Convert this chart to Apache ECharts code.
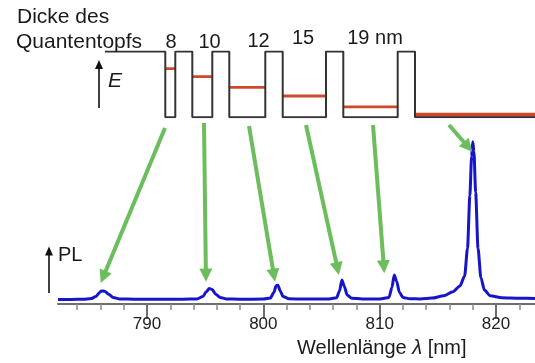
<!DOCTYPE html>
<html><head><meta charset="utf-8">
<script src="https://cdn.jsdelivr.net/npm/echarts@6/dist/echarts.min.js"></script>
<style>html,body{margin:0;padding:0;background:#fff}#c{width:535px;height:363px}</style>
</head><body><div id="c"></div>
<script>
// ---- PL spectrum (wavelength in nm, intensity normalised) ----
const wavelength = [782.35,783.5,784.5,785.2,785.6,785.9,786.1,786.35,786.7,787.1,787.6,789,791,793,794.3,794.8,795.1,795.35,795.6,795.9,796.3,796.8,798,800,800.6,800.9,801.1,801.25,801.45,801.7,802.2,803.5,805.5,806.3,806.55,806.75,806.95,807.2,807.6,808.5,810,810.8,811.05,811.25,811.45,811.7,812,812.6,813.5,814.5,815.5,816.3,816.9,817.3,817.55,817.75,817.9,818.0,818.1,818.25,818.45,818.7,819.0,819.5,820.5,822,823.35];
const plIntensity = [0.028,0.028,0.029,0.033,0.045,0.068,0.08,0.078,0.06,0.04,0.031,0.029,0.029,0.029,0.031,0.045,0.075,0.095,0.088,0.06,0.04,0.031,0.029,0.03,0.036,0.07,0.112,0.115,0.08,0.045,0.032,0.03,0.03,0.038,0.08,0.146,0.11,0.055,0.035,0.031,0.031,0.04,0.1,0.177,0.14,0.07,0.04,0.032,0.031,0.036,0.05,0.075,0.11,0.17,0.34,0.66,0.9,0.99,0.93,0.68,0.34,0.16,0.085,0.05,0.038,0.035,0.034];
const majorTicks = [790,800,810,820];
const minorTicks = [784,786,788,792,794,796,798,802,804,806,808,812,814,816,818,822];

// ---- quantum well profile (position in diagram units, energy 0..1) ----
const profileX = [0,60.3,60.3,70.3,70.3,87.3,87.3,107.3,107.3,124.3,124.3,160.3,160.3,177.7,177.7,221,221,238.3,238.3,292.7,292.7,310,310,430];
const profileE = [1,1,0,0,1,1,0,0,1,1,0,0,1,1,0,0,1,1,0,0,1,1,0,0];
const levelFrom = [60.3,87.3,124.3,177.7,238.3,310];
const levelTo   = [70.3,107.3,160.3,221,292.7,430];
const levelE    = [0.739,0.617,0.456,0.324,0.157,0.04];
const wellLabels = ['8','10','12','15','19 nm'];

// ---- green arrows: from well (diagram units) to PL peak (spectrum units) ----
const arrowFromX = [60,99,144,201,268,344];
const arrowFromE = [-0.163,-0.088,-0.132,-0.117,-0.117,-0.117];
const arrowToWl  = [786.02,795.07,801.0,806.5,810.4,817.96];
const arrowToI   = [0.128,0.136,0.136,0.177,0.187,0.928];

const FONT = "'Liberation Sans', Arial, sans-serif";
const chart = echarts.init(document.getElementById('c'), null, {renderer:'canvas'});

const series = [
  {type:'line', xAxisIndex:0, yAxisIndex:0, data: wavelength.map((w,i)=>[w, plIntensity[i]]),
   showSymbol:false, smooth:0.25, smoothMonotone:'x', lineStyle:{color:'#1616c8', width:3}, z:5},
];
levelE.forEach((e,i)=>{
  series.push({type:'line', xAxisIndex:2, yAxisIndex:1, data:[[levelFrom[i],e],[levelTo[i],e]],
    showSymbol:false, lineStyle:{color:'#d0482c', width: i===5 ? 4 : 2.8}, z:3});
});
series.push({type:'line', xAxisIndex:2, yAxisIndex:1, data: profileX.map((x,i)=>[x, profileE[i]]),
  showSymbol:false, lineStyle:{color:'#333333', width:2}, z:4});

chart.setOption({
  animation:false,
  backgroundColor:'#ffffff',
  grid:[
    {left:58, right:0, top:140, bottom:59},
    {left:105, right:0, top:51.5, bottom:245.7}
  ],
  xAxis:[
    {gridIndex:0, type:'value', min:782.35, max:823.35, position:'bottom',
     axisLine:{show:true, onZero:false, lineStyle:{color:'#6e6e6e', width:2}},
     axisTick:{show:true, length:15, customValues: majorTicks, lineStyle:{color:'#6e6e6e', width:2}},
     axisLabel:{show:true, customValues: majorTicks, fontSize:17, color:'#222', margin:12, fontFamily:FONT},
     splitLine:{show:false}},
    {gridIndex:0, type:'value', min:782.35, max:823.35, position:'bottom',
     axisLine:{show:false, onZero:false},
     axisTick:{show:true, length:6, customValues: minorTicks, lineStyle:{color:'#8a8a8a', width:1.5}},
     axisLabel:{show:false}, splitLine:{show:false}},
    {gridIndex:1, type:'value', min:0, max:430, show:false}
  ],
  yAxis:[
    {gridIndex:0, type:'value', min:0, max:1, show:false},
    {gridIndex:1, type:'value', min:0, max:1, show:false}
  ],
  series: series
});

// ---- annotations ----
const graphics = [];
function txt(text, x, y, size, align, extra){
  graphics.push({type:'text', x:x, y:y, z:10, style:Object.assign({text:text, fill:'#1a1a1a', font: size+'px '+FONT, align:align||'left', verticalAlign:'middle'}, extra||{})});
}
txt('Dicke des', 17, 17.5, 21);
txt('Quantentopfs', 16, 42, 21);
const labelX = [171,209.5,258.5,303,375];
const labelY = [42,42,41.5,38,38];
wellLabels.forEach((t,i)=>txt(t, labelX[i], labelY[i], 20, 'center'));
txt('PL', 58, 255, 20);
graphics.push({type:'text', x:108, y:81, z:10, style:{text:'E', fill:'#1a1a1a', font:'italic 21px '+FONT, align:'left', verticalAlign:'middle'}});
graphics.push({type:'text', x:297, y:348, z:10, style:{text:'{a|Wellenlänge }{b|λ}{a| [nm]}', align:'left', verticalAlign:'middle',
  rich:{a:{fontSize:20, fontFamily:FONT, fill:'#1a1a1a'}, b:{fontSize:20, fontFamily:FONT, fontStyle:'italic', fill:'#1a1a1a'}}}});

function arrow(p0, p1, color, width, headLen, headHalf){
  const dx=p1[0]-p0[0], dy=p1[1]-p0[1], L=Math.hypot(dx,dy);
  const ux=dx/L, uy=dy/L, nx=-uy, ny=ux;
  const bx=p1[0]-ux*headLen, by=p1[1]-uy*headLen;
  graphics.push({type:'line', z:8, shape:{x1:p0[0], y1:p0[1], x2:bx+ux, y2:by+uy}, style:{stroke:color, lineWidth:width}});
  graphics.push({type:'polygon', z:8, shape:{points:[[p1[0],p1[1]],[bx+nx*headHalf,by+ny*headHalf],[bx-nx*headHalf,by-ny*headHalf]]}, style:{fill:color}});
}
arrow([49,293],[49,246.5],'#111',1.6,9,4);
arrow([99,108],[99,60],'#111',1.6,9,4);
for(let i=0;i<arrowFromX.length;i++){
  const p0 = chart.convertToPixel({xAxisIndex:2, yAxisIndex:1}, [arrowFromX[i], arrowFromE[i]]);
  const p1 = chart.convertToPixel({xAxisIndex:0, yAxisIndex:0}, [arrowToWl[i], arrowToI[i]]);
  arrow(p0, p1, '#6cbe5c', 4, 13, 6.5);
}
chart.setOption({graphic: graphics});
</script></body></html>
